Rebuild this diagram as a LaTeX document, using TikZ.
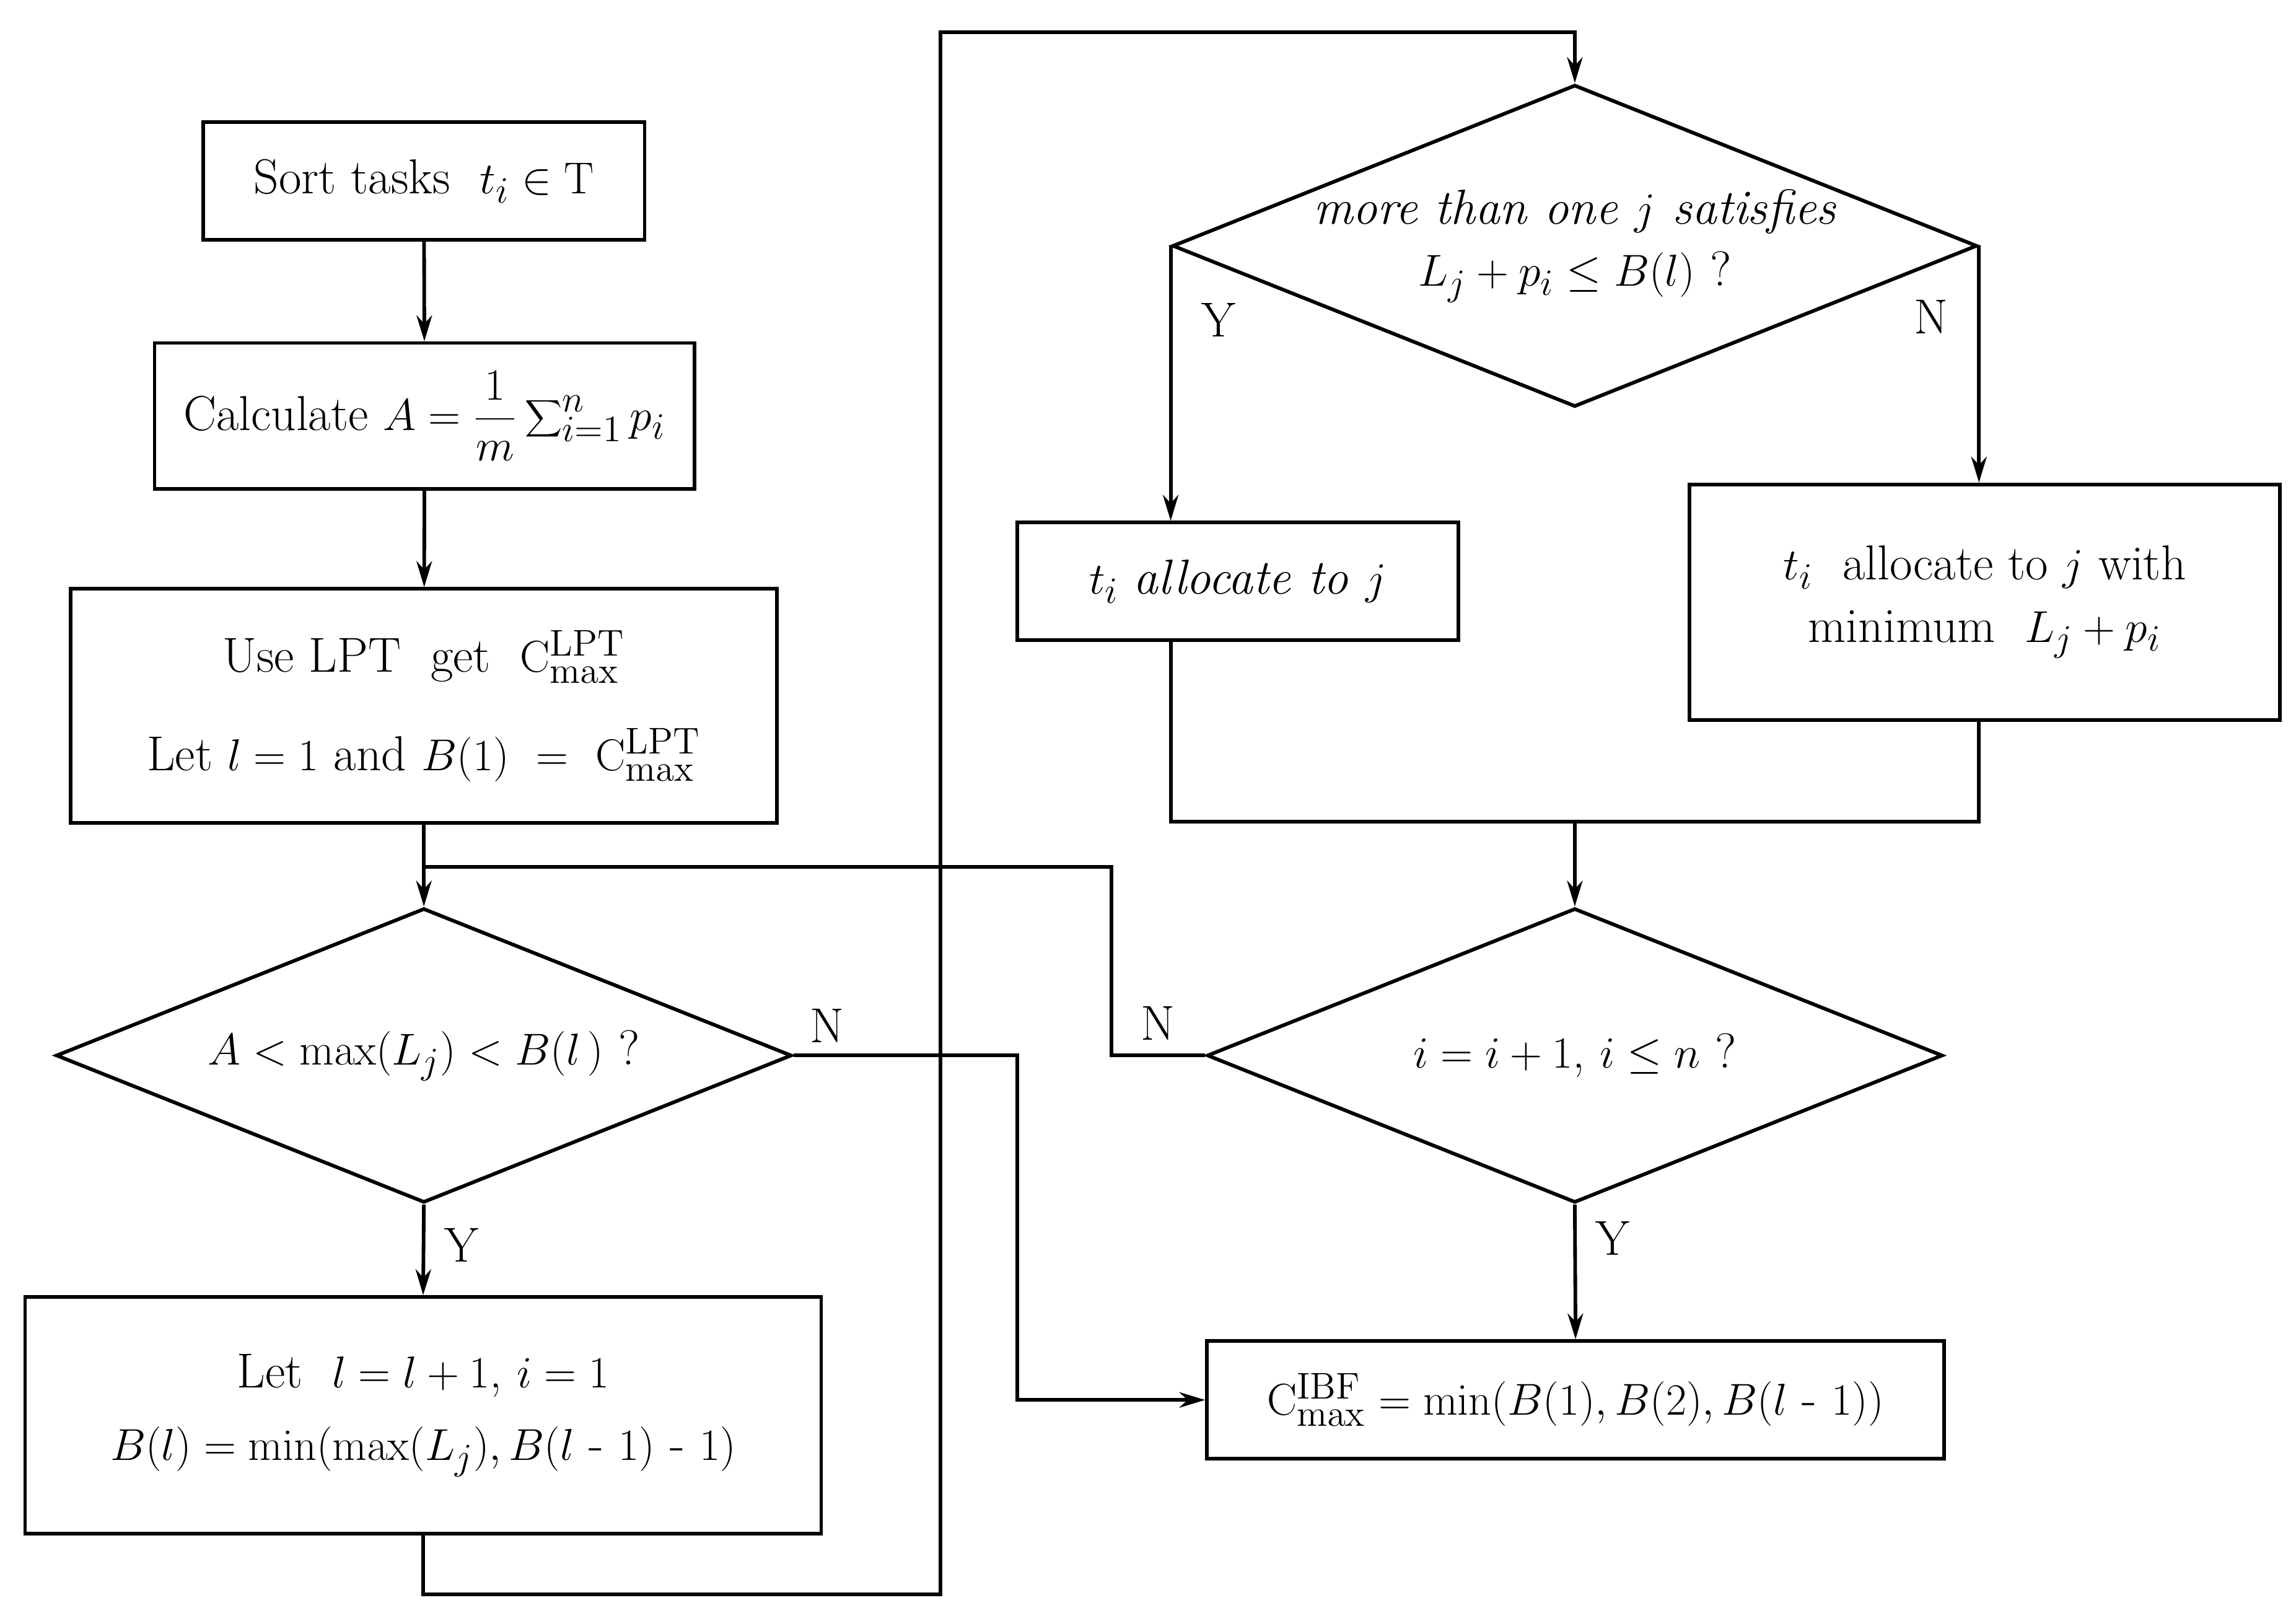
\documentclass[tikz,border=0pt]{standalone}
\usetikzlibrary{shapes.geometric,arrows.meta}
\begin{document}
\begin{tikzpicture}[x=0.02cm,y=-0.02cm,
  every node/.style={font=\fontsize{19}{24}\selectfont},
  box/.style={draw,line width=1.4pt,align=center,inner sep=0pt},
  dia/.style={draw,diamond,line width=1.4pt,aspect=2.5,inner sep=0pt,minimum width=10cm,minimum height=4cm,align=center},
  ln/.style={line width=1.4pt},
  ar/.style={ln,-{Stealth[length=10pt,width=6pt]}},
  lab/.style={font=\fontsize{19}{22}\selectfont}]
\useasboundingbox (0,0) rectangle (1560,1092);
\node[box,minimum width=6cm,minimum height=1.6cm] (sort) at (288,123) {Sort tasks~ $t_i\in \mathrm{T}$};
\node[box,minimum width=7.34cm,minimum height=1.98cm] (calc) at (288.5,282.5) {Calculate $A=\displaystyle\frac{1}{m}\sum\nolimits_{i=1}^{n}p_i$};
\node[box,minimum width=9.6cm,minimum height=3.18cm] (lpt) at (288,479.5) {Use LPT~ get~ $\mathrm{C}^{\mathrm{LPT}}_{\max}$\\[14pt] Let $l=1$ and $B(1)~=~\mathrm{C}^{\mathrm{LPT}}_{\max}$};
\node[dia] (d1) at (288,717) {$A<\max(L_j)<B(l\,)$ ?};
\node[box,minimum width=10.82cm,minimum height=3.22cm] (let) at (287.5,961.5) {Let~ $l=l+1$, $i=1$\\[4pt] $B(l)=\min(\max(L_j),B(l\mbox{ - }1)\mbox{ - }1)$};
\node[dia] (d2) at (1070,167) {\itshape more than one $j$ satisfies\\ $L_j+p_i\le B(l)$ ?};
\node[box,minimum width=6cm,minimum height=1.6cm] (alloc) at (841,395) {$t_i$ \itshape allocate to $j$};
\node[box,minimum width=8.02cm,minimum height=3.2cm] (minb) at (1348.5,409) {$t_i$~ allocate to $j$ with\\ minimum~ $L_j+p_i$};
\node[dia] (d3) at (1070,717) {$i=i+1$, $i\le n$ ?};
\node[box,minimum width=10.02cm,minimum height=1.6cm] (cmax) at (1070.5,951) {$\mathrm{C}^{\mathrm{IBF}}_{\max}=\min(B(1),B(2),B(l\mbox{ - }1))$};
\coordinate (j1) at (288,589);
\coordinate (j2) at (1070,558);
\draw[ar] (sort) -- (calc);
\draw[ar] (calc) -- (lpt);
\draw[ar] (lpt.south) -- (d1.north);
\draw[ar] (d1.south) -- node[lab,right,pos=0.45,xshift=4pt]{Y} (let.north);
\draw[ar] (let.south) -- ++(0,40) -| (639,22) -| (d2.north);
\draw[ar] (d2.west) -- node[lab,pos=0.27,right,xshift=8pt]{Y} (d2.west |- alloc.north);
\draw[ar] (d2.east) -- node[lab,pos=0.3,left,xshift=-8pt]{N} (d2.east |- minb.north);
\draw[ln] (alloc.south -| d2.west) |- (j2);
\draw[ln] (minb.south -| d2.east) |- (j2);
\draw[ar] (j2) -- (d3.north);
\draw[ar] (d3.south) -- node[lab,right,pos=0.25,xshift=4pt]{Y} (cmax.north);
\draw[ln] (d3.west) -- (755,717) node[lab,above,pos=0.5,yshift=2pt]{N} -- (755,589) -- (j1);
\draw[ar] (d1.east) -- (691,717) |- (cmax.west);
\node[lab] (n1) at (562,697) {N};
\end{tikzpicture}
\end{document}
